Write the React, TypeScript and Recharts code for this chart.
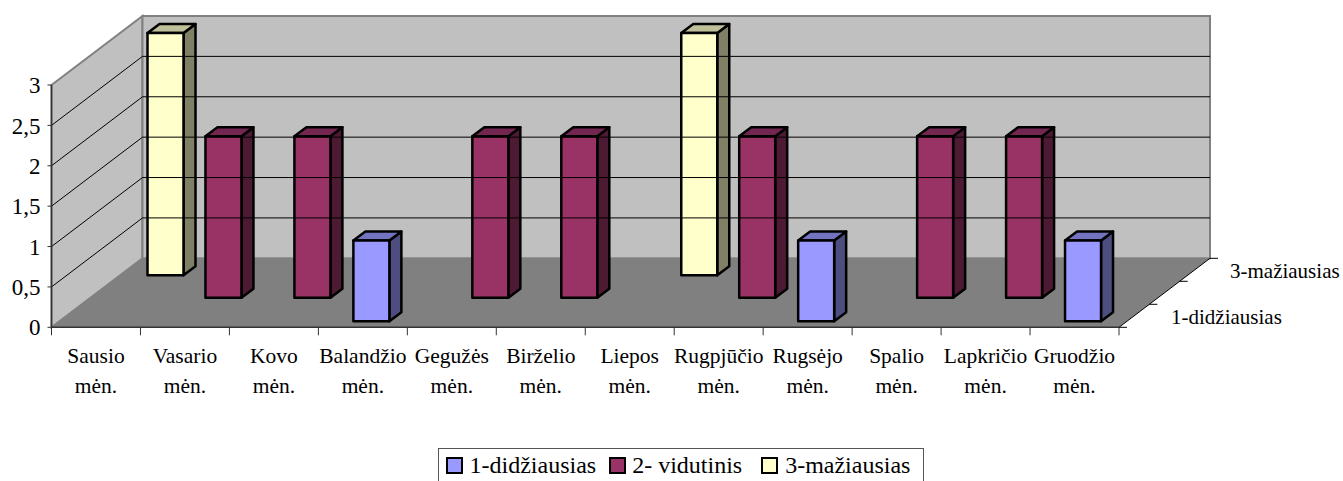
import React from "react";
import {
  BarChart,
  Bar,
  XAxis,
  YAxis,
  Legend,
  ReferenceLine,
  Customized,
} from "recharts";

const months = [
  "Sausio mėn.",
  "Vasario mėn.",
  "Kovo mėn.",
  "Balandžio mėn.",
  "Gegužės mėn.",
  "Birželio mėn.",
  "Liepos mėn.",
  "Rugpjūčio mėn.",
  "Rugsėjo mėn.",
  "Spalio mėn.",
  "Lapkričio mėn.",
  "Gruodžio mėn.",
];
const didziausias = [0, 0, 0, 1, 0, 0, 0, 0, 1, 0, 0, 1];
const vidutinis = [0, 2, 2, 0, 2, 2, 0, 2, 0, 2, 2, 0];
const maziausias = [3, 0, 0, 0, 0, 0, 3, 0, 0, 0, 0, 0];
const yTicks = [0, 0.5, 1, 1.5, 2, 2.5, 3];
const wallLines = [0.5, 1, 1.5, 2, 2.5];

const data = months.map((name, i) => ({
  name,
  a: didziausias[i],
  b: vidutinis[i],
  c: maziausias[i],
}));

const FONT = '"Liberation Serif", "Times New Roman", serif';

// 3d look, the picture is an old Excel chart
const WALL_X = 91;
const WALL_Y = 69;
const AXIS_LEFT = 51.5;
const AXIS_RIGHT = 1119;
const AXIS_TOP = 85;
const AXIS_BOTTOM = 327.3;

const Walls = () => {
  const bx = AXIS_LEFT + WALL_X;
  const bxr = AXIS_RIGHT + WALL_X;
  const top = AXIS_TOP - WALL_Y;
  const floor = AXIS_BOTTOM - WALL_Y;
  return (
    <g>
      <polygon
        points={`${AXIS_LEFT},${AXIS_TOP} ${bx},${top} ${bx},${floor} ${AXIS_LEFT},${AXIS_BOTTOM}`}
        fill="#C0C0C0"
        stroke="#808080"
        strokeWidth={2}
      />
      <rect
        x={bx}
        y={top}
        width={bxr - bx}
        height={floor - top}
        fill="#C0C0C0"
        stroke="#808080"
        strokeWidth={2}
      />
      <polygon
        points={`${AXIS_LEFT},${AXIS_BOTTOM} ${bx},${floor} ${bxr},${floor} ${AXIS_RIGHT},${AXIS_BOTTOM}`}
        fill="#808080"
      />
    </g>
  );
};

const WallLine = (props: any) => {
  const { x1, x2, y1 } = props;
  return (
    <polyline
      points={`${x1},${y1} ${x1 + WALL_X},${y1 - WALL_Y} ${x2 + WALL_X},${y1 - WALL_Y}`}
      fill="none"
      stroke="#000"
      strokeWidth={1}
    />
  );
};

const DepthAxis = () => (
  <g fontFamily={FONT} fontSize={21} fill="#000">
    <line x1={AXIS_RIGHT} y1={AXIS_BOTTOM} x2={AXIS_RIGHT + WALL_X} y2={AXIS_BOTTOM - WALL_Y} stroke="#000" />
    {[0, 1 / 3, 2 / 3, 1].map((t) => {
      const x = AXIS_RIGHT + WALL_X * t;
      const y = AXIS_BOTTOM - WALL_Y * t;
      return <line key={t} x1={x} y1={y} x2={x + 8} y2={y} stroke="#000" />;
    })}
    <text x={1171} y={324}>1-didžiausias</text>
    <text x={1230} y={278}>3-mažiausias</text>
  </g>
);

const Box3d = (props: any, dx: number, dy: number, side: string, roof: string) => {
  const { x, y, width, height, fill } = props;
  if (!height || height <= 0) return <g />;
  const l = x + dx;
  const t = y + dy;
  const r = l + width;
  const b = t + height;
  const sx = 12;
  const sy = 9;
  return (
    <g stroke="#000" strokeWidth={2.5} strokeLinejoin="round">
      <polygon points={`${r},${t} ${r + sx},${t - sy} ${r + sx},${b - sy} ${r},${b}`} fill={side} />
      <polygon points={`${l},${t} ${l + sx},${t - sy} ${r + sx},${t - sy} ${r},${t}`} fill={roof} />
      <rect x={l} y={t} width={width} height={height} fill={fill} />
    </g>
  );
};

// ticks sit between the months, not under them
const MonthTick = (props: any) => {
  const { x, y, payload, index } = props;
  const parts = String(payload.value).split(" ");
  const half = (AXIS_RIGHT - AXIS_LEFT) / months.length / 2;
  const top = AXIS_BOTTOM;
  return (
    <g>
      <line x1={x - half} y1={top} x2={x - half} y2={top + 8} stroke="#333" />
      {index === months.length - 1 && (
        <line x1={x + half} y1={top} x2={x + half} y2={top + 8} stroke="#333" />
      )}
      <text x={x} y={y} textAnchor="middle" fontFamily={FONT} fontSize={21.5} fill="#000">
        <tspan x={x} dy={26}>{parts[0]}</tspan>
        <tspan x={x} dy={30}>{parts[1]}</tspan>
      </text>
    </g>
  );
};

const LegendBox = (props: any) => {
  const swatchGaps = [7, 6, 7];
  const itemGaps = [13, 19, 0];
  return (
    <div
      style={{
        boxSizing: "border-box",
        border: "1.5px solid #555",
        borderBottom: "none",
        height: 33,
        display: "flex",
        alignItems: "center",
        paddingLeft: 7,
        fontFamily: FONT,
        fontSize: 24,
        color: "#000",
        background: "#fff",
        whiteSpace: "nowrap",
      }}
    >
      {(props.payload || []).map((p: any, i: number) => (
        <span key={p.value} style={{ display: "flex", alignItems: "center", marginRight: itemGaps[i] }}>
          <span
            style={{
              boxSizing: "border-box",
              display: "inline-block",
              width: 17,
              height: 17,
              border: "2.5px solid #000",
              background: p.color,
              marginRight: swatchGaps[i],
            }}
          />
          {p.value}
        </span>
      ))}
    </div>
  );
};

export default function App() {
  return (
    <div style={{ position: "fixed", left: 0, top: 0, background: "#fff" }}>
      <BarChart
        width={1343}
        height={481}
        data={data}
        margin={{ top: AXIS_TOP, left: 0, right: 1343 - AXIS_RIGHT, bottom: 0 }}
        barSize={36}
      >
        <Customized component={<Walls />} />
        {wallLines.map((v) => (
          <ReferenceLine key={v} y={v} shape={WallLine} />
        ))}
        <Customized component={<DepthAxis />} />
        <XAxis
          dataKey="name"
          interval={0}
          height={120.7}
          tick={<MonthTick />}
          tickSize={8}
          tickLine={false}
          axisLine={{ stroke: "#333", strokeWidth: 1.5 }}
        />
        <YAxis
          width={AXIS_LEFT}
          domain={[0, 3]}
          ticks={yTicks}
          interval={0}
          tickSize={4}
          tickMargin={7}
          tickFormatter={(v: number) => String(v).replace(".", ",")}
          axisLine={{ stroke: "#333", strokeWidth: 1.5 }}
          tickLine={{ stroke: "#333" }}
          tick={{ fill: "#000", fontFamily: FONT, fontSize: 23 }}
        />
        <Legend
          content={<LegendBox />}
          wrapperStyle={{ left: 437.5, width: 486, bottom: 0, height: 33 }}
        />
        <Bar
          dataKey="a"
          name="1-didžiausias"
          stackId="s"
          fill="#9999FF"
          isAnimationActive={false}
          shape={(p: any) => Box3d(p, 9, -6, "#4D4D80", "#7373BF")}
        />
        <Bar
          dataKey="b"
          name="2- vidutinis"
          stackId="s"
          fill="#993366"
          isAnimationActive={false}
          shape={(p: any) => Box3d(p, 39, -29.5, "#4D1A33", "#732650")}
        />
        <Bar
          dataKey="c"
          name="3-mažiausias"
          stackId="s"
          fill="#FFFFCC"
          isAnimationActive={false}
          shape={(p: any) => Box3d(p, 70, -52, "#808066", "#BFBF99")}
        />
      </BarChart>
    </div>
  );
}
